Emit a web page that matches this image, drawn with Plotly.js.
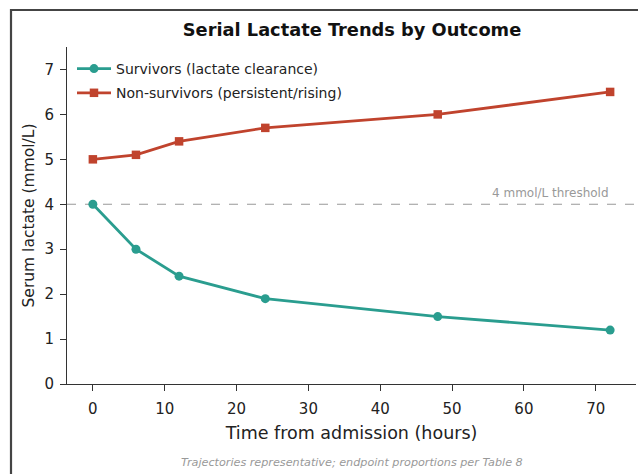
<!DOCTYPE html>
<html>
<head>
<meta charset="utf-8">
<script src="https://cdn.plot.ly/plotly-3.0.1.min.js"></script>
<style>
html,body{margin:0;padding:0;background:#fff;}
#chart{width:638px;height:474px;}
</style>
</head>
<body>
<div id="chart"></div>
<script>
const hours = [0, 6, 12, 24, 48, 72];
const survivors = [4.0, 3.0, 2.4, 1.9, 1.5, 1.2];
const nonSurvivors = [5.0, 5.1, 5.4, 5.7, 6.0, 6.5];
const threshold = 4;
const xTicks = [0, 10, 20, 30, 40, 50, 60, 70];
const yTicks = [0, 1, 2, 3, 4, 5, 6, 7];

const FONT = "DejaVu Sans, sans-serif";

const traces = [
  {
    x: hours, y: survivors, name: "Survivors (lactate clearance)", legendgroup: "s",
    mode: "lines+markers", type: "scatter",
    line: {color: "#2a9d8f", width: 2.8},
    marker: {color: "#2a9d8f", size: 9, symbol: "circle"}
  },
  {
    x: hours, y: nonSurvivors, name: "Non-survivors (persistent/rising)", legendgroup: "n",
    mode: "lines+markers", type: "scatter",
    line: {color: "#c0432d", width: 2.8},
    marker: {color: "#c0432d", size: 8.5, symbol: "square"}
  }
];

const L = 67, R = 2, T = 47, B = 90, W = 638, H = 474;
const pw = W - L - R, ph = H - T - B;
const px = p => (p - L) / pw;
const py = p => (H - B - p) / ph;

const layout = {
  width: W, height: H,
  margin: {l: L, r: R, t: T, b: B, pad: 0},
  paper_bgcolor: "#fff", plot_bgcolor: "#fff",
  font: {family: FONT, color: "#222", size: 14},
  showlegend: true,
  legend: {
    x: px(72), y: py(53), xanchor: "left", yanchor: "top",
    bgcolor: "rgba(255,255,255,0)", borderwidth: 0,
    font: {family: FONT, size: 14, color: "#222"},
    traceorder: "grouped", tracegroupgap: 3, itemwidth: 34
  },
  title: {
    text: "<b>Serial Lactate Trends by Outcome</b>",
    font: {family: FONT, size: 17.8, color: "#111"},
    x: px(352), xanchor: "center", xref: "paper",
    y: 1 - 30 / H, yanchor: "middle"
  },
  xaxis: {
    range: [-3.6, 75.6], tickvals: xTicks, ticktext: xTicks.map(String),
    showgrid: false, zeroline: false,
    showline: true, linecolor: "#333", linewidth: 1,
    ticks: "outside", ticklen: 6, tickcolor: "#333", tickwidth: 1,
    ticklabelstandoff: 5,
    tickfont: {family: FONT, size: 15, color: "#222"},
    title: {text: "Time from admission (hours)", font: {family: FONT, size: 17.5, color: "#222"}, standoff: 9}
  },
  yaxis: {
    range: [0, 7.5], tickvals: yTicks, ticktext: yTicks.map(String),
    showgrid: false, zeroline: false,
    showline: true, linecolor: "#333", linewidth: 1,
    ticks: "outside", ticklen: 6, tickcolor: "#333", tickwidth: 1,
    ticklabelstandoff: 3,
    tickfont: {family: FONT, size: 15, color: "#222"},
    title: {text: "Serum lactate (mmol/L)", font: {family: FONT, size: 15.5, color: "#222"}, standoff: 6}
  },
  shapes: [
    {type: "line", xref: "paper", yref: "y", x0: 0, x1: 1, y0: threshold, y1: threshold,
     line: {color: "#999", width: 1.2, dash: "dash"}, layer: "below"},
    {type: "line", xref: "paper", yref: "paper", x0: px(11), x1: px(640), y0: py(10), y1: py(10),
     line: {color: "#444", width: 2.2}},
    {type: "line", xref: "paper", yref: "paper", x0: px(11), x1: px(11), y0: py(9), y1: py(476),
     line: {color: "#444", width: 2.2}}
  ],
  annotations: [
    {text: "4 mmol/L threshold", xref: "paper", yref: "paper", x: px(611), y: py(193),
     xanchor: "right", yanchor: "middle", showarrow: false,
     font: {family: FONT, size: 12, color: "#999"}},
    {text: "<i>Trajectories representative; endpoint proportions per Table 8</i>",
     xref: "paper", yref: "paper", x: px(352), y: py(462), xanchor: "center", yanchor: "middle",
     showarrow: false, font: {family: FONT, size: 11.2, color: "#999"}}
  ]
};

Plotly.newPlot("chart", traces, layout, {displayModeBar: false, staticPlot: true});
</script>
</body>
</html>
